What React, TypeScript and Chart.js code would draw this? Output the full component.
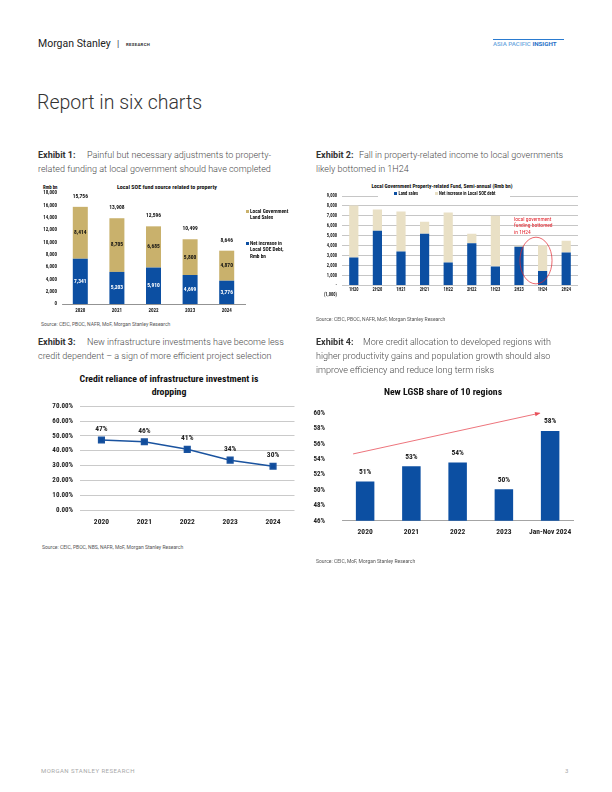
import React, { useEffect, useRef } from "react";
import { Chart, registerables } from "chart.js";
Chart.register(...registerables);

const BLUE = "#0c4fa2";
const GOLD = "#c9b16c";
const BEIGE = "#e9e0c5";
const RED = "#e3262f";
const NARROW = "'Liberation Sans Narrow', 'Roboto Condensed', 'Arial Narrow', Roboto, sans-serif";
const SANS = "Roboto, 'Noto Sans', sans-serif";

Chart.defaults.font.family = NARROW;

// Exhibit 1
const ex1Years = ["2020", "2021", "2022", "2023", "2024"];
const ex1Debt = [7341, 5203, 5910, 4699, 3776];
const ex1Land = [8414, 8705, 6685, 5800, 4870];
const ex1Totals = [15756, 13908, 12596, 10499, 8646];

// Exhibit 2
const ex2Periods = ["1H20", "2H20", "1H21", "2H21", "1H22", "2H22", "1H23", "2H23", "1H24", "2H24"];
const ex2Land = [2800, 5500, 3400, 5200, 2300, 4250, 1900, 3900, 1450, 3300];
const ex2Debt = [5250, 2150, 4050, 1200, 5050, 950, 5100, 100, 2600, 1200];
const ex2HighlightIndex = 8;

// Exhibit 3
const ex3Years = ["2020", "2021", "2022", "2023", "2024"];
const ex3Reliance = [47.2, 46.0, 40.9, 33.6, 29.5];

// Exhibit 4
const ex4Cats = ["2020", "2021", "2022", "2023", "Jan-Nov 2024"];
const ex4Share = [51.1, 53.1, 53.6, 50.1, 57.7];

const fmt = (v: number) => v.toLocaleString("en-US");

function ChartBox({ left, top, width, height, config }: any) {
  const ref = useRef<HTMLCanvasElement>(null);
  useEffect(() => {
    const c = new Chart(ref.current as HTMLCanvasElement, config());
    return () => c.destroy();
  }, []);
  return (
    <div style={{ position: "absolute", left, top, width, height }}>
      <canvas ref={ref} />
    </div>
  );
}

function T({ x, y, size, children, style, center }: any) {
  return (
    <div
      style={{
        position: "absolute",
        left: x,
        top: y - size * 0.6,
        fontSize: size,
        lineHeight: `${size * 1.2}px`,
        whiteSpace: "nowrap",
        transform: center ? "translateX(-50%)" : undefined,
        ...style,
      }}
    >
      {children}
    </div>
  );
}

const ex1Labels = {
  id: "ex1Labels",
  afterDatasetsDraw(chart: any) {
    const { ctx } = chart;
    ctx.save();
    ctx.font = `bold 5.5px ${NARROW}`;
    ctx.textAlign = "center";
    ctx.textBaseline = "middle";
    chart.data.datasets.forEach((ds: any, i: number) => {
      const meta = chart.getDatasetMeta(i);
      meta.data.forEach((el: any, j: number) => {
        ctx.fillStyle = i === 0 ? "#ffffff" : "#111111";
        ctx.fillText(fmt(ds.data[j]), el.x, (el.y + el.base) / 2);
      });
    });
    const top = chart.getDatasetMeta(1);
    top.data.forEach((el: any, j: number) => {
      ctx.fillStyle = "#111111";
      ctx.fillText(fmt(ex1Totals[j]), el.x, el.y - 10.5);
    });
    ctx.restore();
  },
};

const ex2Annot = {
  id: "ex2Annot",
  afterDatasetsDraw(chart: any) {
    const { ctx } = chart;
    const x = chart.scales.x;
    const y = chart.scales.y;
    const cw = x.getPixelForValue(1) - x.getPixelForValue(0);
    const cx = x.getPixelForValue(ex2HighlightIndex) - 0.28 * cw;
    const cy = y.getPixelForValue(2500);
    const ry = Math.abs(y.getPixelForValue(0) - y.getPixelForValue(2350));
    ctx.save();
    ctx.strokeStyle = RED;
    ctx.lineWidth = 0.7;
    ctx.beginPath();
    ctx.ellipse(cx, cy, 0.68 * cw, ry, 0, 0, Math.PI * 2);
    ctx.stroke();
    ctx.restore();
  },
};

const ex3Labels = {
  id: "ex3Labels",
  afterDatasetsDraw(chart: any) {
    const { ctx } = chart;
    ctx.save();
    ctx.font = `bold 7.5px ${NARROW}`;
    ctx.fillStyle = "#222";
    ctx.textAlign = "center";
    ctx.textBaseline = "middle";
    chart.getDatasetMeta(0).data.forEach((el: any, j: number) => {
      ctx.fillText(`${Math.round(ex3Reliance[j])}%`, el.x, el.y - 11);
    });
    ctx.restore();
  },
};

const ex4Labels = {
  id: "ex4Labels",
  afterDatasetsDraw(chart: any) {
    const { ctx } = chart;
    const x = chart.scales.x;
    const y = chart.scales.y;
    ctx.save();
    ctx.font = `bold 7.5px ${NARROW}`;
    ctx.fillStyle = "#222";
    ctx.textAlign = "center";
    ctx.textBaseline = "middle";
    chart.getDatasetMeta(0).data.forEach((el: any, j: number) => {
      ctx.fillText(`${Math.round(ex4Share[j])}%`, el.x, el.y - 9.5);
    });
    // trend arrow
    const cw = x.getPixelForValue(1) - x.getPixelForValue(0);
    const x0 = x.getPixelForValue(0) - 0.26 * cw;
    const y0 = y.getPixelForValue(54.7);
    const x1 = x.getPixelForValue(4) - 0.23 * cw;
    const y1 = y.getPixelForValue(60);
    ctx.strokeStyle = "#e8505a";
    ctx.fillStyle = "#e8505a";
    ctx.lineWidth = 0.8;
    ctx.beginPath();
    ctx.moveTo(x0, y0);
    ctx.lineTo(x1, y1);
    ctx.stroke();
    const a = Math.atan2(y1 - y0, x1 - x0);
    const L = 5;
    ctx.beginPath();
    ctx.moveTo(x1 + 1, y1 - 0.3);
    ctx.lineTo(x1 - L * Math.cos(a - 0.45), y1 - L * Math.sin(a - 0.45));
    ctx.lineTo(x1 - L * Math.cos(a + 0.45), y1 - L * Math.sin(a + 0.45));
    ctx.closePath();
    ctx.fill();
    ctx.restore();
  },
};

const flatTicks = { maxRotation: 0, minRotation: 0, autoSkip: false };

const ex1Config = () => ({
  type: "bar",
  data: {
    labels: ex1Years,
    datasets: [
      { label: "Net increase in Local SOE Debt, Rmb bn", data: ex1Debt, backgroundColor: BLUE, barPercentage: 0.41, categoryPercentage: 1 },
      { label: "Local Government Land Sales", data: ex1Land, backgroundColor: GOLD, barPercentage: 0.41, categoryPercentage: 1 },
    ],
  },
  options: {
    responsive: true,
    maintainAspectRatio: false,
    animation: false,
    layout: { padding: { top: 13, right: 3, left: 0, bottom: 0 } },
    plugins: { legend: { display: false }, tooltip: { enabled: false } },
    scales: {
      x: {
        stacked: true,
        grid: { display: false, drawTicks: false },
        border: { display: true, color: "#777", width: 0.8 },
        ticks: { ...flatTicks, font: { size: 5, weight: "bold" }, color: "#222", padding: 4 },
        afterFit: (s: any) => { s.height = 16; },
      },
      y: {
        stacked: true,
        min: 0,
        max: 18000,
        grid: { display: false, drawTicks: false },
        border: { display: false },
        ticks: { stepSize: 2000, font: { size: 5, weight: "bold" }, color: "#222", padding: 5, callback: (v: any) => fmt(v) },
        afterFit: (s: any) => { s.width = 24; },
      },
    },
  },
  plugins: [ex1Labels],
});

const ex2Config = () => ({
  type: "bar",
  data: {
    labels: ex2Periods,
    datasets: [
      { label: "Land sales", data: ex2Land, backgroundColor: BLUE, barPercentage: 0.39, categoryPercentage: 1 },
      { label: "Net increase in Local SOE debt", data: ex2Debt, backgroundColor: BEIGE, barPercentage: 0.39, categoryPercentage: 1 },
    ],
  },
  options: {
    responsive: true,
    maintainAspectRatio: false,
    animation: false,
    layout: { padding: { top: 16, right: 4, left: 0, bottom: 4 } },
    plugins: { legend: { display: false }, tooltip: { enabled: false } },
    scales: {
      x: {
        stacked: true,
        position: { y: -150 },
        z: 2,
        grid: { display: false, drawTicks: false },
        border: { display: false },
        ticks: { ...flatTicks, font: { size: 4.5, weight: "bold" }, color: "#222", padding: 0 },
      },
      y: {
        stacked: true,
        min: -1000,
        max: 9000,
        grid: {
          drawTicks: false,
          lineWidth: 0.8,
          color: (c: any) => (c.tick && c.tick.value === -1000 ? "rgba(0,0,0,0)" : "#b8b8b8"),
        },
        border: { display: false },
        ticks: {
          stepSize: 1000,
          font: { size: 4.5, weight: "bold" },
          color: "#222",
          padding: 5,
          callback: (v: any) => (v === 0 ? "-" : v < 0 ? `(${fmt(-v)})` : fmt(v)),
        },
        afterFit: (s: any) => { s.width = 30; },
      },
    },
  },
  plugins: [ex2Annot],
});

const ex3Config = () => ({
  type: "line",
  data: {
    labels: ex3Years,
    datasets: [
      {
        label: "Credit reliance",
        data: ex3Reliance,
        borderColor: "#1a539f",
        backgroundColor: "#0f4c9c",
        borderWidth: 1.5,
        pointStyle: "rect",
        pointRadius: 4,
        tension: 0,
      },
    ],
  },
  options: {
    responsive: true,
    maintainAspectRatio: false,
    animation: false,
    layout: { padding: { top: 5, right: 3, left: 0, bottom: 0 } },
    plugins: { legend: { display: false }, tooltip: { enabled: false } },
    scales: {
      x: {
        offset: true,
        grid: { display: false, drawTicks: false },
        border: { display: false },
        ticks: { ...flatTicks, font: { size: 7.5, weight: "bold" }, color: "#222", padding: 7.5 },
        afterFit: (s: any) => { s.height = 20; },
      },
      y: {
        min: 0,
        max: 70,
        grid: { drawTicks: false, color: "#c4c4c4", lineWidth: 0.9 },
        border: { display: false },
        ticks: { stepSize: 10, font: { size: 7, weight: "bold" }, color: "#222", padding: 7, callback: (v: any) => `${Number(v).toFixed(2)}%` },
        afterFit: (s: any) => { s.width = 42; },
      },
    },
  },
  plugins: [ex3Labels],
});

const ex4Config = () => ({
  type: "bar",
  data: {
    labels: ex4Cats,
    datasets: [{ label: "New LGSB share of 10 regions", data: ex4Share, backgroundColor: BLUE, barPercentage: 0.4, categoryPercentage: 1 }],
  },
  options: {
    responsive: true,
    maintainAspectRatio: false,
    animation: false,
    layout: { padding: { top: 7, right: 3, left: 0, bottom: 0 } },
    plugins: { legend: { display: false }, tooltip: { enabled: false } },
    scales: {
      x: {
        grid: { display: false, drawTicks: false },
        border: { display: true, color: "#9a9a9a", width: 0.9 },
        ticks: { ...flatTicks, font: { size: 7.5, weight: "bold" }, color: "#222", padding: 6.5 },
        afterFit: (s: any) => { s.height = 18; },
      },
      y: {
        min: 46,
        max: 60,
        grid: { display: false, drawTicks: false },
        border: { display: false },
        ticks: { stepSize: 2, font: { size: 7, weight: "bold" }, color: "#222", padding: 17, callback: (v: any) => `${v}%` },
        afterFit: (s: any) => { s.width = 30; },
      },
    },
  },
  plugins: [ex4Labels],
});

function Caption({ x, y, label, lines, textX }: any) {
  return (
    <>
      {lines.map((ln: string, i: number) => (
        <T key={i} x={i === 0 ? textX : x} y={y + i * 14} size={9} style={{ color: "#4a4a4a", fontWeight: 300, fontFamily: SANS }}>
          {ln}
        </T>
      ))}
      <T x={x} y={y} size={9} style={{ color: "#333", fontWeight: 700, fontFamily: SANS }}>
        {label}
      </T>
    </>
  );
}

export default function App() {
  const src = { color: "#555", fontFamily: SANS };
  const chartTitle = { fontFamily: NARROW, fontWeight: 700, color: "#111" };
  return (
    <div style={{ position: "absolute", left: 0, top: 0, width: 612, height: 792, background: "#fff", overflow: "hidden", fontFamily: SANS }}>
      {/* Header */}
      <T x={38} y={44} size={10.5} style={{ color: "#222" }}>Morgan Stanley</T>
      <T x={117} y={44} size={9} style={{ color: "#333" }}>|</T>
      <T x={126} y={44.5} size={4.3} style={{ color: "#333", fontWeight: 700, letterSpacing: 0.3 }}>RESEARCH</T>
      <div style={{ position: "absolute", left: 493, top: 38.5, width: 71, height: 1.5, background: "#2a7bd0" }} />
      <T x={493} y={44.5} size={6.2} style={{ color: "#6aa6de", fontWeight: 500 }}>
        ASIA PACIFIC <span style={{ color: "#1f6fc6", fontWeight: 700 }}>INSIGHT</span>
      </T>

      <T x={37} y={103} size={19.5} style={{ color: "#333", fontWeight: 300 }}>Report in six charts</T>

      {/* Exhibit 1 */}
      <Caption x={38} y={155} textX={87} label="Exhibit 1:" lines={["Painful but necessary adjustments to property-", "related funding at local government should have completed"]} />
      <T x={167} y={187} size={6} center style={chartTitle}>Local SOE fund source related to property</T>
      <T x={43} y={188} size={4.8} style={chartTitle}>Rmb bn</T>
      <ChartBox left={38} top={180} width={210} height={140} config={ex1Config} />
      <div style={{ position: "absolute", left: 246, top: 209.5, width: 3, height: 3, background: GOLD }} />
      <T x={250} y={211} size={5.3} style={chartTitle}>Local Government</T>
      <T x={250} y={217.5} size={5.3} style={chartTitle}>Land Sales</T>
      <div style={{ position: "absolute", left: 246, top: 241.5, width: 3, height: 3, background: BLUE }} />
      <T x={250} y={243} size={5.3} style={chartTitle}>Net increase in</T>
      <T x={250} y={249.5} size={5.3} style={chartTitle}>Local SOE Debt,</T>
      <T x={250} y={256} size={5.3} style={chartTitle}>Rmb bn</T>
      <T x={41} y={323.5} size={5} style={src}>Source: CEIC, PBOC, NAFR, MoF, Morgan Stanley Research</T>

      {/* Exhibit 2 */}
      <Caption x={316} y={155} textX={359} label="Exhibit 2:" lines={["Fall in property-related income to local governments", "likely bottomed in 1H24"]} />
      <T x={442} y={186} size={5.5} center style={chartTitle}>Local Government Property-related Fund, Semi-annual (Rmb bn)</T>
      <ChartBox left={312} top={180} width={270} height={123} config={ex2Config} />
      <div style={{ position: "absolute", left: 378, top: 191, width: 132, height: 8, background: "#fff" }} />
      <div style={{ position: "absolute", left: 394, top: 192, width: 3, height: 3, background: BLUE }} />
      <T x={398.5} y={193.5} size={4.6} style={chartTitle}>Land sales</T>
      <div style={{ position: "absolute", left: 434.5, top: 192, width: 3, height: 3, background: BEIGE }} />
      <T x={439} y={193.5} size={4.6} style={chartTitle}>Net increase in Local SOE debt</T>
      <T x={514} y={219} size={5.5} style={{ color: RED, fontFamily: NARROW }}>local government</T>
      <T x={514} y={225.7} size={5.5} style={{ color: RED, fontFamily: NARROW }}>funding bottomed</T>
      <T x={514} y={232.4} size={5.5} style={{ color: RED, fontFamily: NARROW }}>in 1H24</T>
      <T x={316} y={319} size={5} style={src}>Source: CEIC, PBOC, NAFR, MoF, Morgan Stanley Research</T>

      {/* Exhibit 3 */}
      <Caption x={38} y={342} textX={87} label="Exhibit 3:" lines={["New infrastructure investments have become less", "credit dependent \u2013 a sign of more efficient project selection"]} />
      <T x={169} y={378.5} size={9.8} center style={chartTitle}>Credit reliance of infrastructure investment is</T>
      <T x={169} y={392} size={9.8} center style={chartTitle}>dropping</T>
      <ChartBox left={38} top={395} width={262} height={135} config={ex3Config} />
      <T x={42} y={547} size={5} style={src}>Source: CEIC, PBOC, NBS, NAFR, MoF, Morgan Stanley Research</T>

      {/* Exhibit 4 */}
      <Caption x={316} y={342} textX={363} label="Exhibit 4:" lines={["More credit allocation to developed regions with", "higher productivity gains and population growth should also", "improve efficiency and reduce long term risks"]} />
      <T x={443} y={391.5} size={9.8} center style={chartTitle}>New LGSB share of 10 regions</T>
      <ChartBox left={312} top={392} width={266} height={150} config={ex4Config} />
      <T x={316} y={560.5} size={5} style={src}>Source: CEIC, MoF, Morgan Stanley Research</T>

      {/* Footer */}
      <T x={41} y={771} size={6} style={{ color: "#a8a8a8", letterSpacing: 0.45 }}>MORGAN STANLEY RESEARCH</T>
      <T x={565} y={771} size={6} style={{ color: "#a8a8a8" }}>3</T>
    </div>
  );
}
